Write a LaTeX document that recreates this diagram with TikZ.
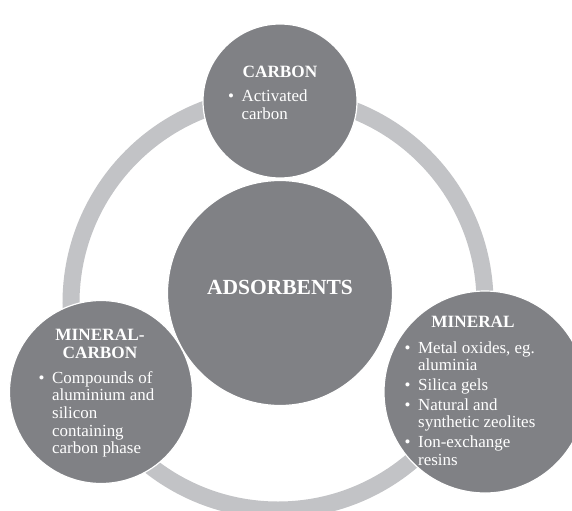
\documentclass[tikz,border=0pt]{standalone}
\usepackage{fontspec}
\setmainfont{Liberation Serif}
\definecolor{bubgray}{HTML}{808185}
\definecolor{ringgray}{HTML}{C2C3C6}
\newcommand{\bul}{\makebox[14bp][l]{\hspace{0.5bp}\textbullet}}
\begin{document}
\begin{tikzpicture}[x=1bp,y=-1bp,
  bub/.style={circle, fill=bubgray, draw=white, line width=1.2bp, inner sep=0pt},
  ring/.style={draw=ringgray, line width=17bp},
  headtxt/.style={text=white, inner sep=0pt, anchor=base, font=\bfseries\fontsize{17.3}{18}\selectfont},
  bodytxt/.style={text=white, inner sep=0pt, anchor=base west, font=\fontsize{17}{18}\selectfont},
  bigtxt/.style={text=white, inner sep=0pt, anchor=base, font=\bfseries\fontsize{21.6}{24}\selectfont}]
\useasboundingbox (0,0) rectangle (572,511);
\clip (0,0) rectangle (572,511);
\fill[white] (0,0) rectangle (572,511);
% ring
\draw[ring] (278,303) circle[radius=207bp];
% circles
\node[bub, minimum size=225bp] (center) at (280,293) {};
\node[bub, minimum size=154bp] (carbon) at (280,101) {};
\node[bub, minimum size=183bp] (minc) at (101,392) {};
\node[bub, minimum size=202bp] (mineral) at (485,392) {};
% texts
\node[bigtxt] (adstxt) at (280,294) {ADSORBENTS};
\node[headtxt] (carbonhead) at (280,77.5) {CARBON};
\node[bodytxt] (carbonbody) at (227.5,102) {\begin{tabular}[t]{@{}l@{}l@{}}
\bul & Activated\\
 & carbon
\end{tabular}};
\node[headtxt] (minchead) at (100,340.5) {\begin{tabular}[t]{@{}c@{}}
MINERAL-\\
CARBON
\end{tabular}};
\node[bodytxt, font=\fontsize{17}{17.8}\selectfont] (mincbody) at (38,383) {\begin{tabular}[t]{@{}l@{}l@{}}
\bul & Compounds of\\
 & aluminium and\\
 & silicon\\
 & containing\\
 & carbon phase
\end{tabular}};
\node[headtxt] (minhead) at (473,327.5) {MINERAL};
\node[bodytxt, font=\fontsize{17}{17.8}\selectfont] (minbody) at (404,353) {\begin{tabular}[t]{@{}l@{}l@{}}
\bul & Metal oxides, eg.\\
 & aluminia\\[2bp]
\bul & Silica gels\\[2bp]
\bul & Natural and\\
 & synthetic zeolites\\[2bp]
\bul & Ion-exchange\\
 & resins
\end{tabular}};
\end{tikzpicture}
\end{document}
